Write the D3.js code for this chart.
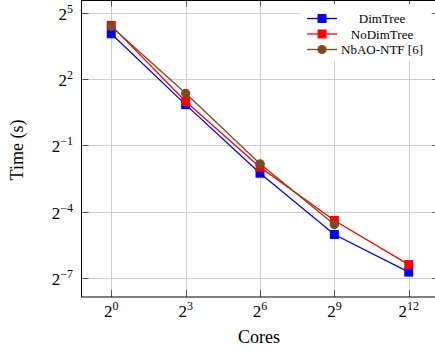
<!DOCTYPE html>
<html>
  <head>
    <meta charset="utf-8">
    <title>Time vs Cores</title>
    <script src="https://cdn.jsdelivr.net/npm/d3@7"></script>
    <style>
      body { margin: 0; background: #fff; }
      text { font-family: 'Liberation Serif', 'DejaVu Serif', serif; fill: #000; }
      .tick-label { font-size: 17px; }
      .axis-label { font-size: 18px; }
      .legend text { font-size: 13px; text-anchor: middle; }
      .grid line { stroke: #cfcfcf; stroke-width: 1; }
    </style>
  </head>
  <body>
    <script>
      // data (seconds, log2 axes)
      var cores     = [1, 8, 64, 512, 4096];
      var dimTree   = [16.6, 1.80, 0.209, 0.0306, 0.0094];
      var noDimTree = [21.6, 1.99, 0.253, 0.0474, 0.0119];
      var nbao      = [20.8, 2.57, 0.281, 0.0418];
      var xTickExps = [0, 3, 6, 9, 12];
      var yTickExps = [5, 2, -1, -4, -7];

      var series = [
        { name: "DimTree",      values: dimTree,   color: "#0000ff", marker: "square" },
        { name: "NoDimTree",    values: noDimTree, color: "#ff0000", marker: "square" },
        { name: "NbAO-NTF [6]", values: nbao,      color: "#7a4b22", marker: "circle" }
      ];

      var outerWidth = 435, outerHeight = 351;
      var plotLeft = 81.5, plotTop = 0.5, plotRight = 438.5, plotBottom = 297;

      var svg = d3.select("body").append("svg")
        .attr("width", outerWidth)
        .attr("height", outerHeight);

      var xScale = d3.scaleLog().base(2)
        .domain([Math.pow(2, -1.2), Math.pow(2, 13.2)])
        .range([plotLeft, plotRight]);
      var yScale = d3.scaleLog().base(2)
        .domain([Math.pow(2, -7.86), Math.pow(2, 5.56)])
        .range([plotBottom, plotTop]);

      var xTicks = xTickExps.map(function(e) { return Math.pow(2, e); });
      var yTicks = yTickExps.map(function(e) { return Math.pow(2, e); });

      // grid
      var grid = svg.append("g").attr("class", "grid");
      grid.selectAll(".gx").data(xTicks).enter().append("line")
        .attr("x1", function(d) { return Math.round(xScale(d)) + 0.5; })
        .attr("x2", function(d) { return Math.round(xScale(d)) + 0.5; })
        .attr("y1", plotTop).attr("y2", plotBottom);
      grid.selectAll(".gy").data(yTicks).enter().append("line")
        .attr("y1", function(d) { return Math.round(yScale(d)) + 0.5; })
        .attr("y2", function(d) { return Math.round(yScale(d)) + 0.5; })
        .attr("x1", plotLeft).attr("x2", plotRight);

      // ticks (inward, all sides)
      var ticks = svg.append("g").attr("stroke", "#555").attr("stroke-width", 1);
      xTicks.forEach(function(d) {
        var x = Math.round(xScale(d)) + 0.5;
        ticks.append("line").attr("x1", x).attr("x2", x).attr("y1", plotBottom).attr("y2", plotBottom - 7);
        ticks.append("line").attr("x1", x).attr("x2", x).attr("y1", plotTop).attr("y2", plotTop + 6);
      });
      yTicks.forEach(function(d) {
        var y = Math.round(yScale(d)) + 0.5;
        ticks.append("line").attr("y1", y).attr("y2", y).attr("x1", plotLeft).attr("x2", plotLeft + 7);
        ticks.append("line").attr("y1", y).attr("y2", y).attr("x1", plotRight).attr("x2", plotRight - 6);
      });

      // frame
      svg.append("rect")
        .attr("x", plotLeft).attr("y", plotTop)
        .attr("width", plotRight - plotLeft).attr("height", plotBottom - plotTop)
        .attr("fill", "none").attr("stroke", "#000").attr("stroke-width", 1);

      // tick labels
      function powLabel(sel, exp) {
        sel.append("tspan").text("2");
        sel.append("tspan").attr("dy", -7).style("font-size", "12px")
          .text(exp < 0 ? "\u2212" + Math.abs(exp) : exp);
      }
      xTickExps.forEach(function(e) {
        var t = svg.append("text").attr("class", "tick-label")
          .attr("x", xScale(Math.pow(2, e)))
          .attr("y", 317)
          .attr("text-anchor", "middle");
        powLabel(t, e);
      });
      yTickExps.forEach(function(e) {
        var t = svg.append("text").attr("class", "tick-label")
          .attr("x", 73)
          .attr("y", yScale(Math.pow(2, e)) + 7)
          .attr("text-anchor", "end");
        powLabel(t, e);
      });

      // axis labels
      svg.append("text").attr("class", "axis-label")
        .attr("x", 259).attr("y", 343)
        .attr("text-anchor", "middle")
        .text("Cores");
      svg.append("text").attr("class", "axis-label")
        .attr("transform", "translate(23,150) rotate(-90)")
        .attr("text-anchor", "middle")
        .text("Time (s)");

      // lines + markers
      var line = d3.line()
        .x(function(d, i) { return xScale(cores[i]); })
        .y(function(d) { return yScale(d); });

      function drawMarker(g, s, x, y) {
        if (s.marker === "square") {
          g.append("rect").attr("x", x - 4.5).attr("y", y - 4.5)
            .attr("width", 9).attr("height", 9).attr("fill", s.color);
        } else {
          g.append("circle").attr("cx", x).attr("cy", y).attr("r", 4.6)
            .attr("fill", s.color);
        }
      }

      var plot = svg.append("g");
      series.forEach(function(s) {
        plot.append("path").datum(s.values)
          .attr("d", line)
          .attr("fill", "none")
          .attr("stroke", s.color)
          .attr("stroke-width", 1.3);
        s.values.forEach(function(v, i) {
          drawMarker(plot, s, xScale(cores[i]), yScale(v));
        });
      });

      // legend
      var legend = svg.append("g").attr("class", "legend");
      legend.append("rect")
        .attr("x", 300).attr("y", 4).attr("width", 131).attr("height", 57)
        .attr("fill", "#fff");
      series.forEach(function(s, i) {
        var y = 18.5 + i * 15.5;
        legend.append("line")
          .attr("x1", 307).attr("x2", 337).attr("y1", y).attr("y2", y)
          .attr("stroke", s.color).attr("stroke-width", 1.3);
        drawMarker(legend, s, 322, y);
        legend.append("text").attr("x", 382).attr("y", y + 4.5).text(s.name);
      });
    </script>
  </body>
</html>
